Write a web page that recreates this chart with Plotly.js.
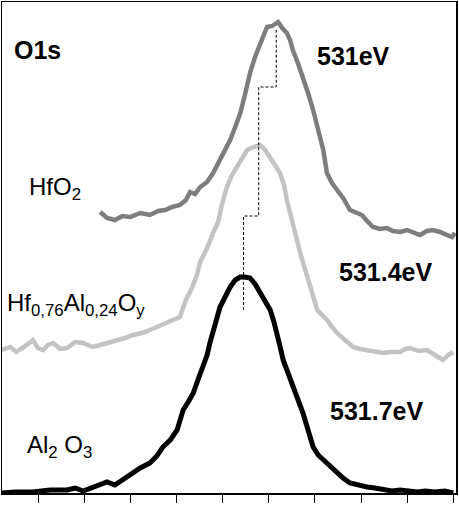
<!DOCTYPE html>
<html>
<head>
<meta charset="utf-8">
<script src="https://cdn.plot.ly/plotly-3.0.1.min.js"></script>
<style>
  html, body { margin: 0; padding: 0; background: #fff; }
  #chart { width: 459px; height: 505px; }
</style>
</head>
<body>
<div id="chart"></div>
<script>
// O1s spectra, binding energy (eV) vs intensity (a.u., stacked)
const hfo2Energy = [534.66, 534.51, 534.34, 534.18, 534.01, 533.79, 533.58, 533.40, 533.25, 533.10,
    532.93, 532.80, 532.71, 532.60, 532.49, 532.34, 532.21, 532.06, 531.95, 531.84,
    531.73, 531.62, 531.52, 531.41, 531.30, 531.19, 531.10, 531.04, 530.93, 530.87,
    530.80, 530.71, 530.61, 530.54, 530.48, 530.37, 530.26, 530.15, 530.04, 529.93,
    529.82, 529.74, 529.63, 529.52, 529.39, 529.24, 529.11, 528.98, 528.87, 528.74,
    528.59, 528.44, 528.31, 528.15, 528.00, 527.87, 527.72, 527.57, 527.44, 527.29,
    527.16, 527.03, 526.96];
const hfo2Counts = [281, 275, 273, 277, 276, 280, 278, 282, 283, 286,
    288, 293, 301, 299, 306, 311, 320, 333, 343, 353,
    366, 380, 398, 420, 436, 450, 460, 466, 467, 469,
    471, 465, 460, 453, 443, 430, 416, 400, 383, 363,
    343, 320, 310, 303, 295, 283, 280, 278, 272, 266,
    264, 265, 262, 261, 263, 261, 258, 262, 263, 261,
    259, 256, 260];

const mixEnergy = [536.79, 536.61, 536.48, 536.40, 536.25, 536.12, 536.01, 535.90, 535.79, 535.68,
    535.53, 535.38, 535.20, 535.03, 534.83, 534.66, 534.49, 534.29, 534.12, 533.95,
    533.75, 533.58, 533.40, 533.21, 533.08, 532.93, 532.80, 532.67, 532.56, 532.49,
    532.34, 532.21, 532.10, 532.02, 531.91, 531.80, 531.69, 531.58, 531.47, 531.34,
    531.19, 531.08, 530.97, 530.87, 530.76, 530.67, 530.61, 530.54, 530.48, 530.39,
    530.32, 530.21, 530.11, 529.95, 529.85, 529.74, 529.63, 529.52, 529.35, 529.17,
    529.02, 528.87, 528.70, 528.52, 528.37, 528.15, 528.05, 527.94, 527.76, 527.57,
    527.40, 527.22, 527.11, 527.00];
const mixCounts = [143, 146, 141, 143, 148, 153, 145, 143, 148, 150,
    144, 145, 151, 150, 146, 148, 150, 153, 155, 158,
    160, 163, 167, 170, 173, 176, 193, 205, 218, 231,
    245, 260, 271, 288, 306, 318, 326, 335, 343, 346,
    348, 343, 336, 328, 320, 308, 293, 280, 266, 253,
    240, 223, 206, 183, 178, 173, 166, 160, 153, 146,
    144, 143, 141, 140, 141, 141, 144, 145, 142, 143,
    138, 133, 138, 141];

const al2o3Energy = [536.79, 536.51, 536.12, 535.75, 535.38, 535.20, 535.03, 534.77, 534.51, 534.34,
    534.12, 533.95, 533.79, 533.58, 533.43, 533.30, 533.14, 532.99, 532.86, 532.75,
    532.64, 532.54, 532.43, 532.34, 532.28, 532.17, 532.06, 531.95, 531.84, 531.73,
    531.62, 531.52, 531.41, 531.30, 531.19, 531.08, 530.97, 530.89, 530.82, 530.76,
    530.69, 530.58, 530.48, 530.37, 530.26, 530.15, 530.04, 529.93, 529.82, 529.67,
    529.52, 529.39, 529.24, 529.07, 528.87, 528.70, 528.52, 528.33, 528.15, 527.98,
    527.78, 527.61, 527.40, 527.18, 527.00];
const al2o3Counts = [0, 1, 1, 3, 3, 5, 2, 6, 11, 8,
    15, 20, 25, 30, 37, 46, 53, 63, 83, 91,
    100, 113, 126, 138, 150, 168, 186, 196, 206, 213,
    216, 216, 215, 209, 200, 193, 183, 171, 160, 147,
    133, 120, 106, 93, 80, 63, 46, 38, 33, 26,
    20, 15, 10, 8, 6, 5, 3, 2, 3, 2,
    1, 2, 1, 2, 0];

// dashed guide joining the three peak maxima
const guideEnergy = [531.55, 531.55, 531.22, 531.22, 530.84, 530.84];
const guideCounts = [183, 277, 277, 406, 406, 463];

const tickEnergies = [536, 535, 534, 533, 532, 531, 530, 529, 528, 527];

const traces = [
    {
        x: hfo2Energy, y: hfo2Counts,
        type: 'scatter', mode: 'lines',
        line: { color: '#7d7d7d', width: 4.5 },
        name: 'HfO2'
    },
    {
        x: mixEnergy, y: mixCounts,
        type: 'scatter', mode: 'lines',
        line: { color: '#c3c3c3', width: 4.5 },
        name: 'Hf0,76Al0,24Oy'
    },
    {
        x: al2o3Energy, y: al2o3Counts,
        type: 'scatter', mode: 'lines',
        line: { color: '#000000', width: 5 },
        name: 'Al2O3'
    },
    {
        x: guideEnergy, y: guideCounts,
        type: 'scatter', mode: 'lines',
        line: { color: '#000000', width: 1, dash: '3px,2px' },
        name: 'guide'
    }
];

const boldFont = { family: 'Liberation Sans, Arial, sans-serif', size: 25, color: '#000' };
const plainFont = { family: 'Liberation Sans, Arial, sans-serif', size: 24, color: '#000' };

function label(text, x, y, font) {
    return { text: text, x: x, y: y, xref: 'x', yref: 'y',
             xanchor: 'left', yanchor: 'middle', showarrow: false, font: font };
}

const layout = {
    width: 459,
    height: 505,
    margin: { l: 2, r: 3, t: 2, b: 12 },
    paper_bgcolor: '#fff',
    plot_bgcolor: '#fff',
    showlegend: false,
    xaxis: {
        range: [536.79, 526.94],
        tickvals: tickEnergies,
        ticks: 'outside', ticklen: 8, tickwidth: 1, tickcolor: '#000',
        showticklabels: false,
        showgrid: false, zeroline: false,
        showline: true, linecolor: '#000', linewidth: 1.5, mirror: true
    },
    yaxis: {
        range: [0, 491],
        showticklabels: false, ticks: '',
        showgrid: false, zeroline: false,
        showline: true, linecolor: '#000', linewidth: 1.5, mirror: true
    },
    annotations: [
        label('<b>O1s</b>', 536.57, 443, boldFont),
        label('<b>531eV</b>', 530.00, 437, boldFont),
        label('HfO<sub>2</sub>', 536.25, 305, plainFont),
        label('<b>531.4eV</b>', 529.52, 221, boldFont),
        label('Hf<sub>0,76</sub>Al<sub>0,24</sub>O<sub>y</sub>', 536.72, 189, plainFont),
        label('<b>531.7eV</b>', 529.72, 82, boldFont),
        label('Al<sub>2</sub> O<sub>3</sub>', 536.29, 47, plainFont)
    ]
};

Plotly.newPlot('chart', traces, layout, { displayModeBar: false, staticPlot: true });
</script>
</body>
</html>
